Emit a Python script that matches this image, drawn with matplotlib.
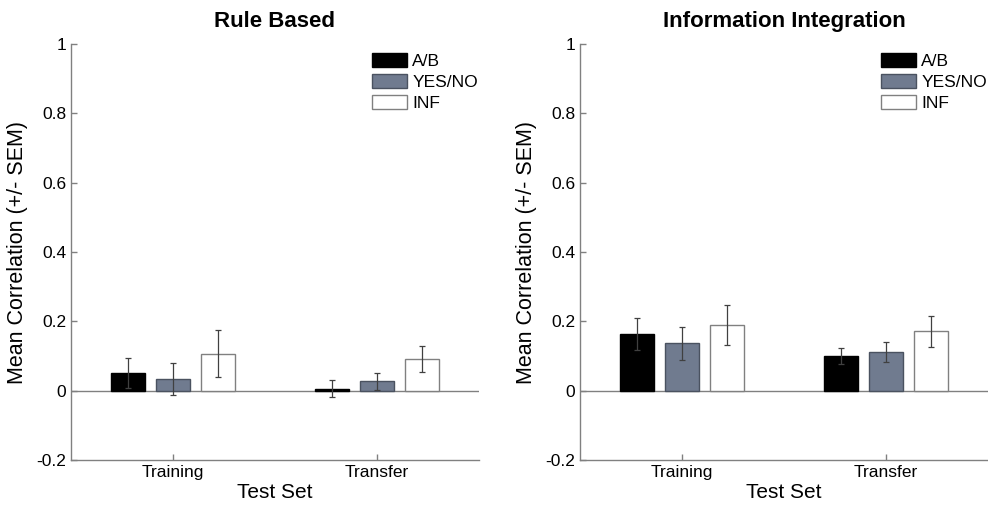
import matplotlib
matplotlib.use("Agg")
import matplotlib.pyplot as plt
import numpy as np

plt.rcParams['font.family'] = ['Liberation Sans', 'DejaVu Sans']

groups = ['Training', 'Transfer']
conditions = ['A/B', 'YES/NO', 'INF']
colors = ['#000000', '#707b8f', '#ffffff']
edges = ['#000000', '#4a5260', '#808080']

titles = ['Rule Based', 'Information Integration']
# means[condition] -> values per group
rb_mean = [[0.051, 0.006], [0.034, 0.027], [0.106, 0.091]]
rb_sem = [[0.042, 0.024], [0.046, 0.024], [0.068, 0.037]]
ii_mean = [[0.163, 0.100], [0.137, 0.112], [0.190, 0.171]]
ii_sem = [[0.047, 0.022], [0.048, 0.029], [0.058, 0.045]]

yticks = [-0.2, 0, 0.2, 0.4, 0.6, 0.8, 1]
yticklabels = ['-0.2', '0', '0.2', '0.4', '0.6', '0.8', '1']

fig = plt.figure(figsize=(9.88, 5.05), dpi=100)
lefts = [71 / 988, 580 / 988]
spine_c = '#808080'

for k, (means, sems) in enumerate([(rb_mean, rb_sem), (ii_mean, ii_sem)]):
    ax = fig.add_axes([lefts[k], 45 / 505, 408 / 988, 416 / 505])
    x = np.arange(1, len(groups) + 1)
    offsets = [-0.22, 0, 0.22]
    for i, cond in enumerate(conditions):
        ax.bar(x + offsets[i], means[i], width=0.167, color=colors[i],
               edgecolor=edges[i], linewidth=1.0, label=cond, zorder=3)
        ax.errorbar(x + offsets[i], means[i], yerr=sems[i], fmt='none',
                    ecolor='#404040', elinewidth=0.9, capsize=2.5, capthick=0.9,
                    zorder=4)
    ax.axhline(0, color=spine_c, linewidth=1.0, zorder=2)
    ax.set_xlim(0.5, 2.5)
    ax.set_ylim(-0.2, 1)
    ax.set_xticks(x)
    ax.set_xticklabels(groups, fontsize=12.5)
    ax.set_yticks(yticks)
    ax.set_yticklabels(yticklabels, fontsize=12.5)
    ax.tick_params(direction='in', length=4, color=spine_c, width=1.0)
    for s in ['top', 'right']:
        ax.spines[s].set_visible(False)
    for s in ['left', 'bottom']:
        ax.spines[s].set_color(spine_c)
        ax.spines[s].set_linewidth(1.0)
    ax.set_xlabel('Test Set', fontsize=15, labelpad=2)
    ax.set_ylabel('Mean Correlation (+/- SEM)', fontsize=15.5, labelpad=6)
    ax.set_title(titles[k], fontsize=16, fontweight='bold', pad=12)
    ax.legend(loc='upper right', frameon=False, fontsize=12.5,
              handlelength=2.0, handleheight=0.85, handletextpad=0.3,
              labelspacing=0.3, borderaxespad=0.3, bbox_to_anchor=(1.027, 1.008))

fig.savefig('out.png', dpi=100)
